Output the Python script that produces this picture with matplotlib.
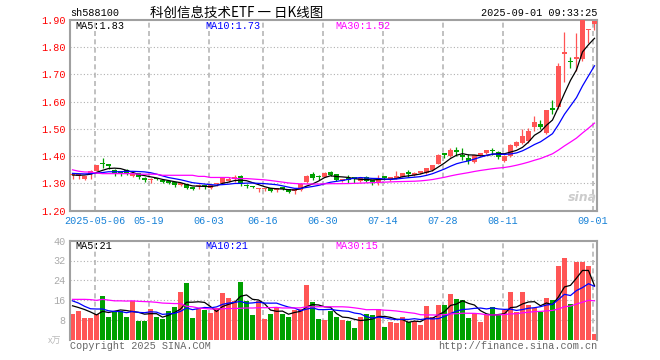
import numpy as np
import pandas as pd
import matplotlib
matplotlib.use('Agg')
import matplotlib.pyplot as plt

plt.rcParams['lines.scale_dashes'] = False

# trading-day index of the dated grid lines
tick_idx = [4, 13, 23, 32, 42, 52, 62, 72, 87]
tick_labels = ['2025-05-06', '05-19', '06-03', '06-16', '06-30',
               '07-14', '07-28', '08-11', '09-01']

opens = [1.330, 1.328, 1.318, 1.335, 1.347, 1.372, 1.369, 1.350, 1.340, 1.350,
         1.328, 1.337, 1.318, 1.312, 1.318, 1.310, 1.308, 1.305, 1.296, 1.297,
         1.281, 1.289, 1.293, 1.284, 1.297, 1.303, 1.310, 1.317, 1.328, 1.292,
         1.287, 1.279, 1.278, 1.283, 1.277, 1.284, 1.279, 1.272, 1.275, 1.306,
         1.334, 1.325, 1.324, 1.342, 1.333, 1.310, 1.316, 1.319, 1.309, 1.324,
         1.308, 1.306, 1.322, 1.312, 1.320, 1.325, 1.338, 1.332, 1.338, 1.340,
         1.348, 1.373, 1.408, 1.402, 1.418, 1.404, 1.395, 1.378, 1.406, 1.411,
         1.421, 1.416, 1.384, 1.401, 1.437, 1.449, 1.456, 1.507, 1.520, 1.487,
         1.575, 1.581, 1.775, 1.747, 1.757, 1.757, 1.862, 1.886]
highs = [1.338, 1.335, 1.328, 1.348, 1.369, 1.395, 1.370, 1.352, 1.342, 1.352,
         1.340, 1.338, 1.322, 1.320, 1.320, 1.312, 1.310, 1.306, 1.302, 1.298,
         1.285, 1.298, 1.296, 1.296, 1.302, 1.324, 1.322, 1.332, 1.330, 1.298,
         1.290, 1.285, 1.285, 1.285, 1.283, 1.288, 1.281, 1.278, 1.302, 1.330,
         1.343, 1.332, 1.342, 1.345, 1.335, 1.316, 1.330, 1.322, 1.322, 1.326,
         1.310, 1.330, 1.328, 1.325, 1.345, 1.340, 1.350, 1.342, 1.344, 1.357,
         1.369, 1.408, 1.410, 1.430, 1.432, 1.430, 1.408, 1.406, 1.412, 1.423,
         1.430, 1.420, 1.405, 1.444, 1.456, 1.501, 1.505, 1.548, 1.532, 1.570,
         1.606, 1.741, 1.855, 1.766, 1.852, 1.900, 1.868, 1.900]
lows = [1.315, 1.318, 1.314, 1.318, 1.346, 1.357, 1.353, 1.328, 1.328, 1.330,
        1.325, 1.318, 1.305, 1.300, 1.312, 1.302, 1.298, 1.288, 1.290, 1.278,
        1.275, 1.278, 1.278, 1.280, 1.292, 1.300, 1.306, 1.307, 1.292, 1.285,
        1.282, 1.270, 1.272, 1.270, 1.268, 1.276, 1.265, 1.262, 1.272, 1.303,
        1.313, 1.313, 1.322, 1.328, 1.310, 1.305, 1.303, 1.300, 1.305, 1.304,
        1.295, 1.295, 1.312, 1.308, 1.318, 1.322, 1.325, 1.328, 1.335, 1.336,
        1.344, 1.372, 1.392, 1.398, 1.402, 1.385, 1.370, 1.374, 1.400, 1.408,
        1.406, 1.390, 1.380, 1.398, 1.432, 1.444, 1.450, 1.493, 1.499, 1.483,
        1.554, 1.575, 1.671, 1.724, 1.711, 1.750, 1.815, 1.862]
closes = [1.332, 1.331, 1.326, 1.346, 1.368, 1.370, 1.364, 1.333, 1.338, 1.335,
          1.335, 1.322, 1.314, 1.316, 1.315, 1.307, 1.302, 1.293, 1.298, 1.282,
          1.280, 1.296, 1.290, 1.294, 1.300, 1.322, 1.318, 1.319, 1.302, 1.290,
          1.286, 1.282, 1.281, 1.274, 1.280, 1.281, 1.270, 1.275, 1.298, 1.327,
          1.320, 1.323, 1.339, 1.332, 1.313, 1.313, 1.313, 1.317, 1.320, 1.309,
          1.306, 1.320, 1.320, 1.322, 1.324, 1.338, 1.336, 1.335, 1.341, 1.355,
          1.367, 1.406, 1.406, 1.424, 1.415, 1.396, 1.383, 1.404, 1.409, 1.421,
          1.418, 1.396, 1.401, 1.440, 1.452, 1.474, 1.493, 1.526, 1.507, 1.568,
          1.570, 1.732, 1.778, 1.744, 1.760, 1.900, 1.865, 1.895]
# volume, in 万
volumes = [10.4, 11.7, 8.8, 8.8, 10.4, 17.7, 9.2, 11.4, 11.4, 9.2,
           15.6, 7.7, 7.7, 12.4, 9.2, 8.5, 11.6, 13.2, 19.3, 23.0,
           8.7, 12.4, 12.0, 10.8, 13.0, 18.8, 16.8, 15.8, 23.3, 15.7,
           10.0, 15.5, 8.3, 10.4, 13.2, 10.4, 9.2, 11.8, 12.6, 22.0,
           15.3, 8.5, 8.1, 11.7, 9.2, 8.1, 7.5, 4.7, 9.2, 10.4,
           10.1, 12.4, 5.1, 7.1, 6.7, 9.2, 7.1, 7.5, 5.9, 13.6,
           9.2, 14.0, 14.0, 18.4, 16.4, 15.9, 8.7, 10.6, 7.1, 10.0,
           13.2, 10.0, 12.2, 19.4, 11.2, 19.4, 14.0, 12.8, 11.2, 16.8,
           15.9, 29.7, 33.0, 14.4, 31.4, 31.4, 29.7, 2.3]

# moving-average values shown before a full window exists
price_ma_head = {
    5: [1.331, 1.330, 1.331, 1.334],
    10: [1.337, 1.336, 1.335, 1.336, 1.338, 1.340, 1.343, 1.343, 1.343],
    30: [1.350, 1.345, 1.342, 1.342, 1.338, 1.336, 1.336, 1.336, 1.336, 1.336,
         1.336, 1.334, 1.334, 1.334, 1.334, 1.330, 1.330, 1.330, 1.330, 1.330,
         1.330, 1.326, 1.326, 1.322, 1.322, 1.322, 1.322, 1.318, 1.318],
}
vol_ma_head = {
    5: [13.7, 13.0, 12.2, 11.2],
    10: [15.7, 14.8, 13.5, 12.5, 12.4, 12.4, 11.7, 11.4, 11.4],
    30: [16.3, 16.3, 16.3, 16.2, 15.9, 16.3, 16.0, 15.7, 15.7, 15.6,
         15.7, 15.5, 15.4, 15.3, 15.1, 14.8, 14.7, 14.6, 14.6, 13.5,
         13.3, 12.8, 12.6, 12.4, 12.4, 12.5, 12.6, 12.6, 12.7],
}

RED = '#ff5555'
GREEN = '#00a000'
MONO = 'Liberation Mono'
CJK = ['Noto Sans CJK SC', 'DejaVu Sans']
GRID = '#b0b0b0'

o = np.array(opens); h = np.array(highs); l = np.array(lows); c = np.array(closes)
v = np.array(volumes)
x = np.arange(len(c))
colors = np.where(c >= o, RED, GREEN)

cs = pd.Series(c)
vs = pd.Series(v)
ma_cols = {5: 'black', 10: '#0000ff', 30: '#ff00ff'}


def moving_avg(s, n, head):
    m = s.rolling(n, min_periods=1).mean()
    m.iloc[:len(head)] = head
    return m


W, H = 660, 360
fig = plt.figure(figsize=(W / 100, H / 100), dpi=100)


def box(left, top, right, bottom):
    return [left / W, 1 - bottom / H, (right - left) / W, (bottom - top) / H]


def ftext(px, py, s, **kw):
    fig.text(px / W, 1 - py / H, s, **kw)


ax1 = fig.add_axes(box(70, 20, 597, 210.7))
ax2 = fig.add_axes(box(70, 240.7, 597, 339.7))

for ax in (ax1, ax2):
    ax.set_xlim(-0.42, len(c) - 0.58)
    ax.set_xticks([])
    for sp in ax.spines.values():
        sp.set_color('#a0a0a0')
        sp.set_linewidth(1.5)
    for t in tick_idx:
        ax.axvline(t - 0.3, color=GRID, lw=1.1, ls=(0, (3.6, 2.4)), zorder=0)
ax2.spines['bottom'].set_visible(False)

# price panel
ax1.set_ylim(1.20, 1.90)
levels = np.round(np.arange(1.20, 1.901, 0.10), 2)
ax1.set_yticks(levels)
ax1.set_yticklabels([f'{p:.2f}' for p in levels], color='red', family=MONO, fontsize=7.3)
ax1.tick_params(axis='y', length=0, pad=3)
for p in levels[1:-1]:
    ax1.axhline(p, color=GRID, lw=0.8, ls=(0, (0.8, 1.6)), zorder=0)

ax1.vlines(x, l, h, colors=colors, lw=0.9, zorder=2)
ax1.bar(x, np.maximum(np.abs(c - o), 0.006), bottom=np.minimum(o, c),
        width=0.8, color=colors, linewidth=0, zorder=3)
for n, col in ma_cols.items():
    ax1.plot(x, moving_avg(cs, n, price_ma_head[n]), color=col, lw=0.9, zorder=4)

# volume panel
ax2.set_ylim(0, 40)
vlev = [8, 16, 24, 32, 40]
ax2.set_yticks(vlev)
ax2.set_yticklabels([str(t) for t in vlev], color='#aaaaaa', family=MONO, fontsize=7.3)
ax2.tick_params(axis='y', length=0, pad=3)
for t in vlev[:-1]:
    ax2.axhline(t, color=GRID, lw=0.8, ls=(0, (0.8, 1.6)), zorder=0)
ax2.bar(x, v, width=0.8, color=colors, linewidth=0, zorder=2)
for n, col in ma_cols.items():
    ax2.plot(x, moving_avg(vs, n, vol_ma_head[n]), color=col, lw=0.9, zorder=4)

# MA captions
for (n, col), px in zip(ma_cols.items(), [75, 205, 335]):
    ftext(px, 26, f'MA{n}:{cs.rolling(n).mean().iloc[-1]:.2f}', color=col,
          family=MONO, fontsize=7.3, va='center')
    ftext(px, 246, f'MA{n}:{int(vs.rolling(n).mean().iloc[-1])}', color=col,
          family=MONO, fontsize=7.3, va='center')

# date labels
for t, lab in zip(tick_idx, tick_labels):
    px = 70 + (t - 0.3 + 0.42) / (len(c) - 0.16) * 527
    ftext(px, 221, lab, color='#1882d8', family=MONO, fontsize=7.3,
          ha='center', va='center')

# header and footer
ftext(70, 13, 'sh588100', family=MONO, fontsize=7.3, va='center')
ftext(150, 13, '科创信息技术ETF 一 日K线图', family=CJK, fontsize=9.7, va='center')
ftext(597, 13, '2025-09-01 09:33:25', family=MONO, fontsize=7.3, ha='right', va='center')
ftext(48, 341, 'x万', family=CJK, fontsize=6.5, color='#bbbbbb', va='center')
ftext(70, 346, 'Copyright 2025 SINA.COM', family=MONO, fontsize=7.3,
      color='#666666', va='center')
ftext(597, 346, 'http://finance.sina.com.cn', family=MONO, fontsize=7.3,
      color='#666666', ha='right', va='center')
ftext(582, 197, 'sina', fontsize=9, color='#cccccc', weight='bold',
      style='italic', ha='center', va='center')

plt.savefig('out.png', dpi=100)
